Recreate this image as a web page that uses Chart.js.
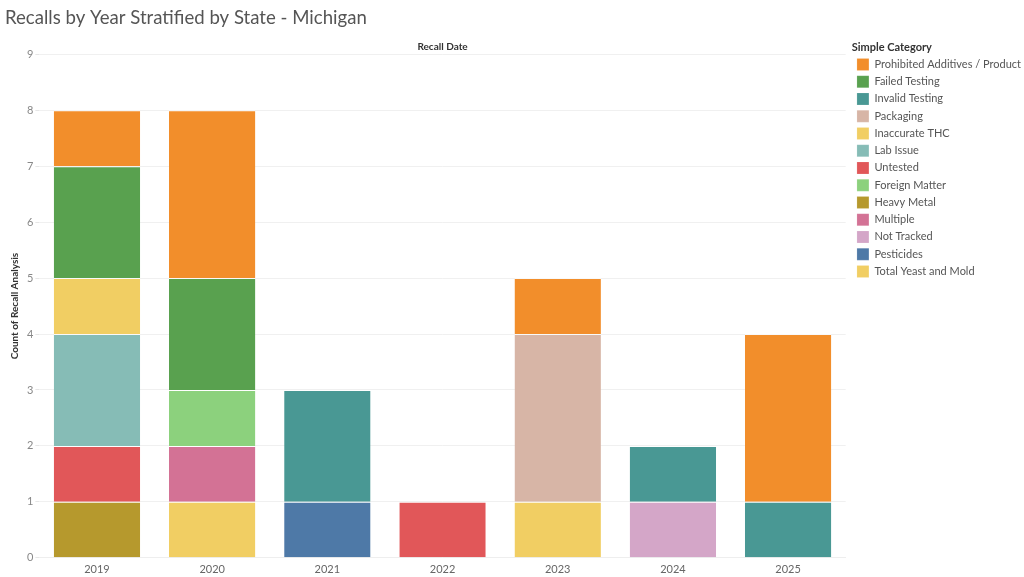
<!DOCTYPE html>
<html>
<head>
<meta charset="utf-8">
<script src="https://cdn.jsdelivr.net/npm/chart.js@4"></script>
<style>
  html, body { margin: 0; padding: 0; background: #fff; }
  #wrap { width: 1024px; height: 577px; position: relative; }
</style>
</head>
<body>
<div id="wrap"><canvas id="recalls-chart"></canvas></div>
<script>
const years = ['2019', '2020', '2021', '2022', '2023', '2024', '2025'];

// counts per year, one array per category (legend order)
const prohibited    = [1, 3, 0, 0, 1, 0, 3];
const failedTesting = [2, 2, 0, 0, 0, 0, 0];
const invalidTesting = [0, 0, 2, 0, 0, 1, 1];
const packaging     = [0, 0, 0, 0, 3, 0, 0];
const inaccurateThc = [1, 0, 0, 0, 1, 0, 0];
const labIssue      = [2, 0, 0, 0, 0, 0, 0];
const untested      = [1, 0, 0, 1, 0, 0, 0];
const foreignMatter = [0, 1, 0, 0, 0, 0, 0];
const heavyMetal    = [1, 0, 0, 0, 0, 0, 0];
const multiple      = [0, 1, 0, 0, 0, 0, 0];
const notTracked    = [0, 0, 0, 0, 0, 1, 0];
const pesticides    = [0, 0, 1, 0, 0, 0, 0];
const yeastMold     = [0, 1, 0, 0, 0, 0, 0];

const categories = [
    ['Prohibited Additives / Product', prohibited, '#F28E2B'],
    ['Failed Testing', failedTesting, '#59A14F'],
    ['Invalid Testing', invalidTesting, '#499894'],
    ['Packaging', packaging, '#D7B5A6'],
    ['Inaccurate THC', inaccurateThc, '#F1CE63'],
    ['Lab Issue', labIssue, '#86BCB6'],
    ['Untested', untested, '#E15759'],
    ['Foreign Matter', foreignMatter, '#8CD17D'],
    ['Heavy Metal', heavyMetal, '#B6992D'],
    ['Multiple', multiple, '#D37295'],
    ['Not Tracked', notTracked, '#D4A6C8'],
    ['Pesticides', pesticides, '#4E79A7'],
    ['Total Yeast and Mold', yeastMold, '#F1CE63']
];

// Chart.js stacks the first dataset at the bottom, Tableau puts the last legend item there
const datasets = categories.slice().reverse().map(([label, data, color]) => {
    return {
        label: label,
        data: data.map((v) => v === 0 ? null : v),
        backgroundColor: color,
        borderColor: 'rgba(255, 255, 255, 0.6)',
        borderWidth: { top: 1 },
        borderSkipped: false,
        barPercentage: 0.75,
        categoryPercentage: 1.0
    }
});

const textFont = 'Lato, "Noto Sans", sans-serif';
Chart.defaults.font.family = textFont;

const chartConfig = {
    type: 'bar',
    data: { labels: years, datasets: datasets },
    options: {
        responsive: false,
        animation: false,
        layout: { padding: { left: 5, right: -7, top: 0, bottom: -4 } },
        plugins: {
            title: {
                display: true,
                text: 'Recalls by Year Stratified by State - Michigan',
                align: 'start',
                color: '#555555',
                font: { size: 18.6, weight: 'normal', family: textFont },
                padding: { top: 7, bottom: 11 }
            },
            legend: {
                position: 'right',
                align: 'start',
                reverse: true,
                maxWidth: 260,
                title: {
                    display: true,
                    text: 'Simple Category',
                    position: 'start',
                    color: '#333333',
                    font: { size: 11, weight: 'bold' },
                    padding: { top: 42, bottom: -2 }
                },
                labels: {
                    boxWidth: 12,
                    boxHeight: 12,
                    padding: 5.25,
                    color: '#555555',
                    font: { size: 11 }
                }
            },
            tooltip: { enabled: false }
        },
        scales: {
            x: {
                stacked: true,
                grid: { display: false, drawTicks: false },
                border: { color: '#eeeeee' },
                ticks: { color: '#666666', font: { size: 11 }, padding: 5 }
            },
            xTop: {
                type: 'category',
                labels: years,
                position: 'top',
                grid: { display: false, drawTicks: false },
                border: { display: false },
                ticks: { display: false },
                title: {
                    display: true,
                    text: 'Recall Date',
                    color: '#333333',
                    font: { size: 10, weight: 'bold' },
                    padding: { top: 0, bottom: 2 }
                }
            },
            y: {
                stacked: true,
                min: 0,
                max: 9,
                ticks: { stepSize: 1, color: '#888888', font: { size: 11 }, padding: 2 },
                grid: { color: '#f0f0f0', tickLength: 4, tickColor: '#e6e6e6' },
                border: { display: false },
                title: {
                    display: true,
                    text: 'Count of Recall Analysis',
                    color: '#333333',
                    font: { size: 10, weight: 'bold' },
                    padding: { top: 4, bottom: 4 }
                }
            },
            // empty axis that only keeps a small gap between the plot and the legend
            gap: {
                type: 'linear',
                position: 'right',
                grid: { display: false, drawTicks: false },
                border: { display: false },
                ticks: { display: false },
                afterFit: (scale) => { scale.width = 6; }
            }
        }
    }
};

const canvas = document.getElementById('recalls-chart');
canvas.width = 1024;
canvas.height = 577;
new Chart(canvas.getContext('2d'), chartConfig);
</script>
</body>
</html>
